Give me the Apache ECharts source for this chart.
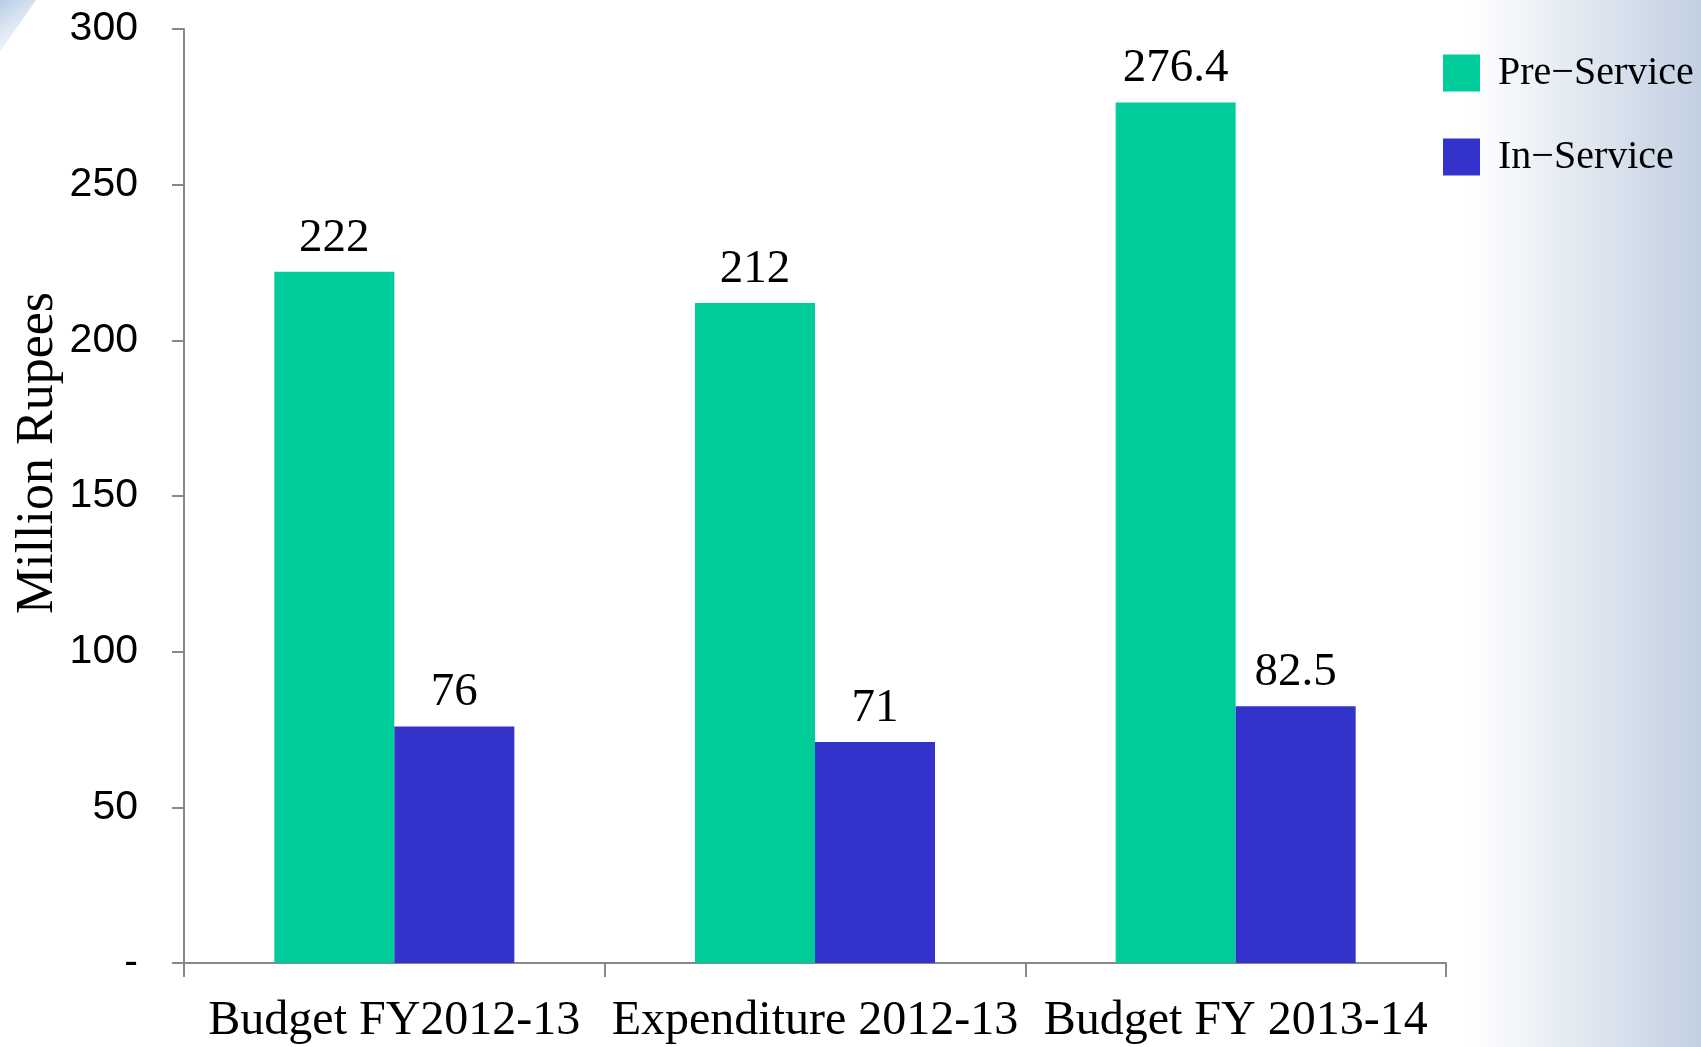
<!DOCTYPE html>
<html>
<head>
<meta charset="utf-8">
<script src="https://cdn.jsdelivr.net/npm/echarts@6/dist/echarts.min.js"></script>
<style>
  html, body { margin: 0; padding: 0; background: #fff; }
  #main { width: 1701px; height: 1047px; }
</style>
</head>
<body>
<div id="main"></div>
<script>
// data
const categories = ["Budget FY2012-13", "Expenditure 2012-13", "Budget FY 2013-14"];
const preService = [222, 212, 276.4];
const inService = [76, 71, 82.5];
const seriesNames = ["Pre\u2212Service", "In\u2212Service"];
const yTicks = { min: 0, max: 300, interval: 50 };

const serif = "'Liberation Serif', 'Times New Roman', serif";
const sans = "'Liberation Sans', Arial, sans-serif";

const myChart = echarts.init(document.getElementById("main"));

let option = {
  backgroundColor: "#ffffff",
  animation: false,
  graphic: [
    {
      // blue-grey fade on the right edge
      type: "rect",
      z: -10,
      shape: { x: 1470, y: 0, width: 231, height: 1047 },
      style: {
        fill: new echarts.graphic.LinearGradient(0, 0, 1, 0, [
          { offset: 0, color: "rgba(255,255,255,1)" },
          { offset: 1, color: "#c2d0e2" },
        ]),
      },
      silent: true,
    },
    {
      // little swoosh in the top-left corner
      type: "polygon",
      z: -10,
      shape: { points: [[0, 0], [36, 0], [0, 52]] },
      style: {
        fill: new echarts.graphic.LinearGradient(0, 0, 1, 1, [
          { offset: 0, color: "#b6cbe6" },
          { offset: 1, color: "rgba(255,255,255,0.6)" },
        ]),
      },
      silent: true,
    },
  ],
  grid: {
    left: 184,
    right: 255,
    top: 29,
    bottom: 84,
  },
  legend: {
    orient: "vertical",
    left: 1438,
    top: 48,
    itemWidth: 37,
    itemHeight: 37,
    itemGap: 44,
    icon: "rect",
    textStyle: {
      fontFamily: serif,
      fontSize: 40,
      color: "#000",
      padding: [0, 0, 0, 13],
    },
    data: seriesNames,
  },
  xAxis: {
    type: "category",
    data: categories,
    axisLine: { lineStyle: { color: "#888", width: 2 } },
    axisTick: { show: true, length: 14, lineStyle: { color: "#888", width: 2 } },
    axisLabel: {
      interval: 0,
      margin: 34,
      fontFamily: serif,
      fontSize: 48,
      color: "#000",
    },
  },
  yAxis: {
    type: "value",
    min: yTicks.min,
    max: yTicks.max,
    interval: yTicks.interval,
    name: "Million Rupees",
    nameLocation: "middle",
    nameGap: 120,
    nameMoveOverlap: false,
    nameTextStyle: {
      fontFamily: serif,
      fontSize: 52,
      color: "#000",
      padding: [0, 0, 0, 86],
    },
    axisLine: { show: true, lineStyle: { color: "#888", width: 2 } },
    axisTick: { show: true, length: 12, lineStyle: { color: "#888", width: 2 } },
    splitLine: { show: false },
    axisLabel: {
      margin: 46,
      fontFamily: sans,
      fontSize: 41,
      color: "#000",
      formatter: (v) => (v === 0 ? "-" : String(v)),
    },
  },
  series: [
    {
      name: seriesNames[0],
      type: "bar",
      data: preService,
      barWidth: 120,
      barGap: "0%",
      itemStyle: { color: "#00cc99" },
      label: {
        show: true,
        position: "top",
        distance: 10,
        fontFamily: serif,
        fontSize: 47,
        color: "#000",
      },
    },
    {
      name: seriesNames[1],
      type: "bar",
      data: inService,
      barWidth: 120,
      barGap: "0%",
      itemStyle: { color: "#3333cc" },
      label: {
        show: true,
        position: "top",
        distance: 10,
        fontFamily: serif,
        fontSize: 47,
        color: "#000",
      },
    },
  ],
};
myChart.setOption(option);
</script>
</body>
</html>
